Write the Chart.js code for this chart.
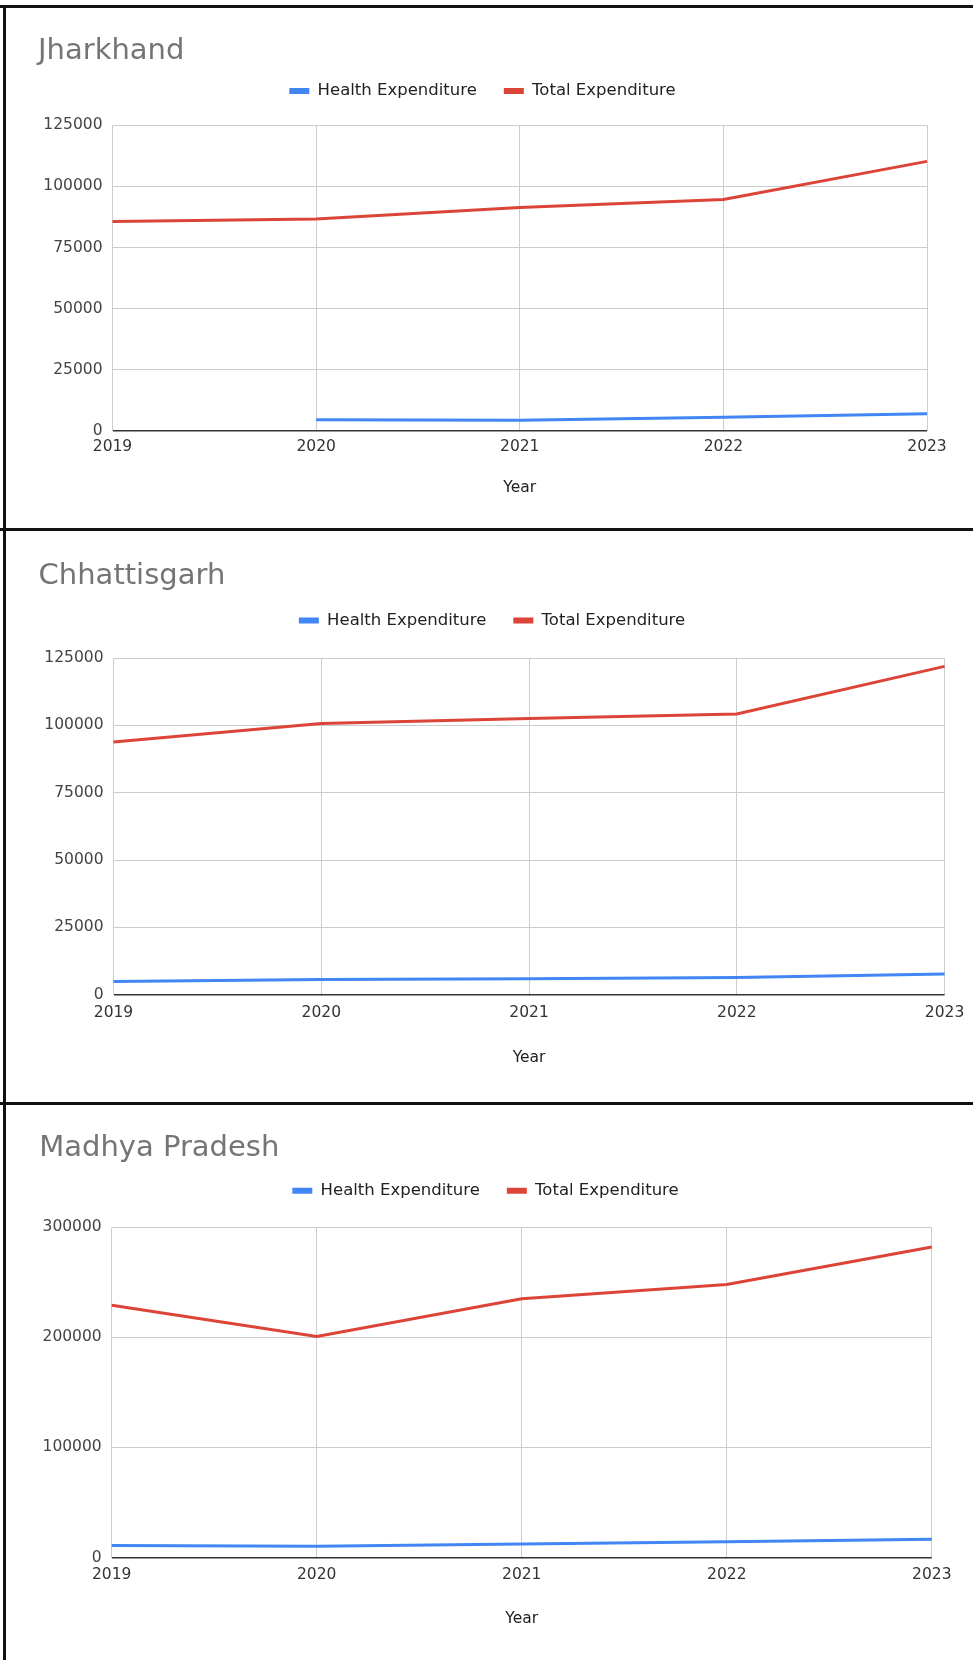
<!DOCTYPE html>
<html>
<head>
<meta charset="utf-8">
<title>Health and Total Expenditure by State</title>
<script src="https://cdn.jsdelivr.net/npm/chart.js@4.4.1/dist/chart.umd.min.js"></script>
<style>
  html, body { margin: 0; padding: 0; background: #ffffff; }
  body { width: 973px; height: 1660px; position: relative; overflow: hidden; }
  canvas { position: absolute; left: 0; }
  .rule { position: absolute; background: #111111; }
</style>
</head>
<body>
<canvas id="jharkhand"></canvas>
<canvas id="chhattisgarh"></canvas>
<canvas id="madhyaPradesh"></canvas>

<!-- panel frames -->
<div class="rule" style="left:0;top:5px;width:973px;height:2.5px"></div>
<div class="rule" style="left:0;top:528px;width:973px;height:3px"></div>
<div class="rule" style="left:0;top:1102px;width:973px;height:3px"></div>
<div class="rule" style="left:3px;top:5px;width:3px;height:1655px"></div>

<script>
// ---- data ----
const years = ['2019', '2020', '2021', '2022', '2023'];
const seriesNames = ['Health Expenditure', 'Total Expenditure'];
const axisTitle = 'Year';

const jharkhandHealth = [null, 4600, 4350, 5600, 7000];
const jharkhandTotal = [85600, 86600, 91350, 94600, 110200];

const chhattisgarhHealth = [4900, 5700, 6000, 6400, 7700];
const chhattisgarhTotal = [93800, 100700, 102500, 104200, 121900];

const madhyaPradeshHealth = [10900, 10300, 12300, 14300, 16500];
const madhyaPradeshTotal = [229300, 200800, 235200, 248100, 282200];

const ticks125k = [0, 25000, 50000, 75000, 100000, 125000];
const ticks300k = [0, 100000, 200000, 300000];

// ---- styling ----
const FONT = "'DejaVu Sans', 'Liberation Sans', Arial, sans-serif";
const TITLE_FS = 29;
const LEGEND_FS = 16.5;
const LEGEND_PAD = 27;
const TICK_FS = 15.5;
const AXIS_TITLE_FS = 15.5;
const BLUE = '#4285f4';
const RED = '#db4437';
const PAGE_W = 973;

// ---- panel geometry (page pixels) ----
const panels = [
  { id: 'jharkhand', title: 'Jharkhand', health: jharkhandHealth, total: jharkhandTotal, ticks: ticks125k,
    top: 7.5, bottom: 528, titleY: 51, legendY: 90.5, legendCX: 482.5,
    plotTop: 124.7, plotBottom: 430.4, plotLeft: 112.5, plotRight: 927, xLabelY: 446.6, yearY: 487 },
  { id: 'chhattisgarh', title: 'Chhattisgarh', health: chhattisgarhHealth, total: chhattisgarhTotal, ticks: ticks125k,
    top: 531, bottom: 1102, titleY: 576, legendY: 620.5, legendCX: 492,
    plotTop: 658, plotBottom: 994.8, plotLeft: 113.5, plotRight: 945.4, xLabelY: 1012.8, yearY: 1058 },
  { id: 'madhyaPradesh', title: 'Madhya Pradesh', health: madhyaPradeshHealth, total: madhyaPradeshTotal, ticks: ticks300k,
    top: 1105, bottom: 1660, titleY: 1148, legendY: 1190.7, legendCX: 485.5,
    plotTop: 1227.4, plotBottom: 1557.5, plotLeft: 111.7, plotRight: 931.8, xLabelY: 1574.5, yearY: 1619 }
];

function buildPanel(p) {
  const canvas = document.getElementById(p.id);
  const H = Math.round(p.bottom - p.top);
  canvas.width = PAGE_W;
  canvas.height = H;
  canvas.style.top = p.top + 'px';
  const ct = p.top;

  // vertical stack above the plot: title, legend, spacer
  const titleLH = 1.2 * TITLE_FS;
  const titlePadTop = p.titleY - ct - titleLH / 2;
  const legendTop = p.legendY - ct - LEGEND_PAD - LEGEND_FS / 2;
  const titlePadBottom = legendTop - (titlePadTop + titleLH);
  const legendBottom = legendTop + LEGEND_FS + LEGEND_PAD + 10;
  const spacer = p.plotTop - ct - legendBottom;

  // x axis below the plot: tick labels, then axis title
  const tickLH = 1.2 * TICK_FS;
  const axisLH = 1.2 * AXIS_TITLE_FS;
  const xTickPad = p.xLabelY - p.plotBottom - tickLH / 2;
  const xTitlePadTop = p.yearY - p.plotBottom - (axisLH / 2 + tickLH + 2 * xTickPad);
  const xHeight = axisLH + xTitlePadTop + tickLH + 2 * xTickPad;
  const padBottom = H - (p.plotBottom - ct) - xHeight;

  // horizontal: legend is centred between padLeft and plotRight
  const padLeft = 2 * p.legendCX - p.plotRight;
  const padRight = PAGE_W - p.plotRight;
  const yWidth = p.plotLeft - padLeft;

  const t = p.ticks;

  return new Chart(canvas, {
    type: 'line',
    data: {
      labels: years,
      datasets: [
        { label: seriesNames[0], data: p.health, borderColor: BLUE, backgroundColor: BLUE,
          borderWidth: 3, pointRadius: 0, pointHoverRadius: 0, tension: 0, fill: false },
        { label: seriesNames[1], data: p.total, borderColor: RED, backgroundColor: RED,
          borderWidth: 3, pointRadius: 0, pointHoverRadius: 0, tension: 0, fill: false }
      ]
    },
    options: {
      responsive: false,
      animation: false,
      devicePixelRatio: 1,
      layout: { padding: { top: 0, left: padLeft, right: padRight, bottom: padBottom } },
      plugins: {
        tooltip: { enabled: false },
        title: {
          display: true, text: p.title, align: 'start', color: '#757575',
          font: { family: FONT, size: TITLE_FS, weight: 'normal' },
          padding: { top: titlePadTop, bottom: titlePadBottom }
        },
        legend: {
          display: true, position: 'top', align: 'center',
          labels: {
            color: '#222222', boxWidth: 20, boxHeight: 6, padding: LEGEND_PAD,
            font: { family: FONT, size: LEGEND_FS },
            generateLabels(chart) {
              return Chart.defaults.plugins.legend.labels.generateLabels(chart)
                .map(item => Object.assign(item, { lineWidth: 0 }));
            }
          }
        }
      },
      scales: {
        x: {
          type: 'category', position: 'bottom', offset: false,
          grid: { display: true, color: '#cccccc', lineWidth: 1, drawTicks: false },
          border: { display: false },
          ticks: { color: '#333333', padding: xTickPad, maxRotation: 0, autoSkip: false,
                   font: { family: FONT, size: TICK_FS } },
          title: { display: true, text: axisTitle, color: '#222222',
                   font: { family: FONT, size: AXIS_TITLE_FS },
                   padding: { top: xTitlePadTop, bottom: 0 } },
          afterFit(s) { s.height = xHeight; }
        },
        xTop: {
          type: 'category', position: 'top', offset: false,
          grid: { display: false }, border: { display: false }, ticks: { display: false },
          afterFit(s) { s.height = spacer; }
        },
        y: {
          type: 'linear', position: 'left',
          min: t[0], max: t[t.length - 1],
          grid: {
            drawTicks: false,
            color: c => (c.tick && c.tick.value === 0) ? '#333333' : '#cccccc',
            lineWidth: c => (c.tick && c.tick.value === 0) ? 1.5 : 1
          },
          border: { display: false },
          ticks: {
            stepSize: t[1] - t[0], padding: 10, color: '#444444',
            font: { family: FONT, size: TICK_FS },
            callback: v => String(v)
          },
          afterFit(s) { s.width = yWidth; }
        }
      }
    }
  });
}

panels.forEach(buildPanel);
</script>
</body>
</html>
